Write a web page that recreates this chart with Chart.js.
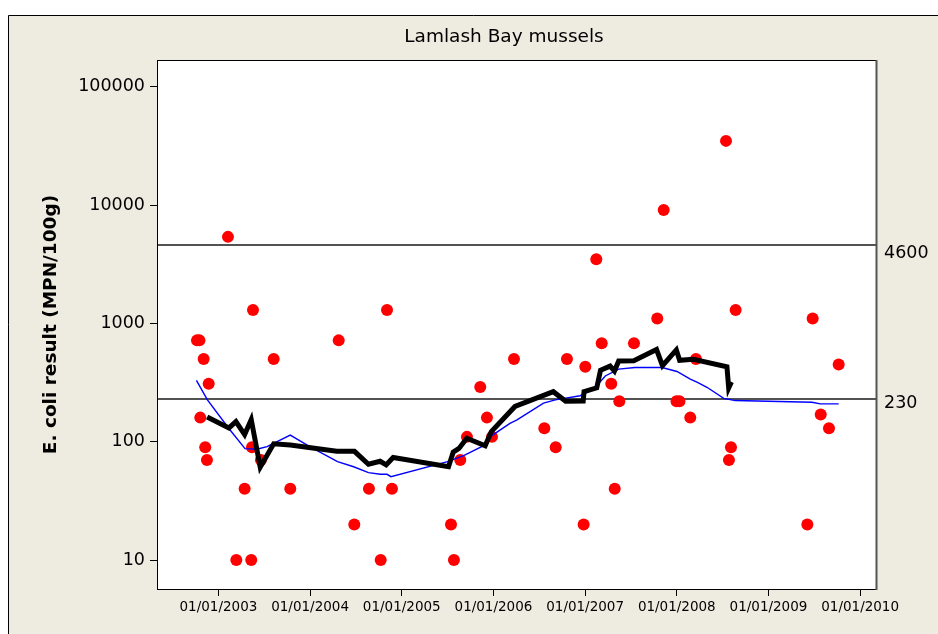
<!DOCTYPE html>
<html lang="en">
<head>
<meta charset="UTF-8">
<title>Lamlash Bay mussels</title>
<script src="https://cdn.jsdelivr.net/npm/chart.js"></script>
<style>
  html, body { margin: 0; padding: 0; background: #fff; }
</style>
</head>
<body>
<canvas id="chart" width="938" height="634"></canvas>
<script>
// sample results (decimal year, E. coli MPN/100g)
const sampleYears = [2002.766, 2002.793, 2002.802, 2002.839, 2002.856, 2002.875, 2002.894,
  2003.104, 2003.195, 2003.286, 2003.358, 2003.366, 2003.377, 2003.464, 2003.603, 2003.784,
  2004.312, 2004.482, 2004.642, 2004.770, 2004.839, 2004.893,
  2005.537, 2005.569, 2005.638, 2005.711, 2005.856, 2005.929, 2005.984,
  2006.224, 2006.555, 2006.679, 2006.802, 2006.984,
  2007.002, 2007.122, 2007.181, 2007.285, 2007.323, 2007.373, 2007.533, 2007.787, 2007.857, 2007.997,
  2008.029, 2008.147, 2008.209, 2008.537, 2008.569, 2008.591, 2008.642,
  2009.424, 2009.482, 2009.570, 2009.660, 2009.766];
const sampleValues = [720, 720, 160, 500, 90, 70, 310,
  5400, 10, 40, 10, 90, 1300, 70, 500, 40,
  720, 20, 40, 10, 1300, 40,
  20, 10, 70, 110, 290, 160, 110,
  500, 130, 90, 500, 20,
  430, 3500, 680, 310, 40, 220, 680, 1100, 9100, 220,
  220, 160, 500, 35000, 70, 90, 1300,
  20, 1100, 170, 130, 450];

// rolling geometric mean (thick black)
const geoYears = [2002.877, 2003.115, 2003.191, 2003.286, 2003.358, 2003.456, 2003.603, 2003.784,
  2004.291, 2004.484, 2004.637, 2004.764, 2004.830, 2004.906,
  2005.510, 2005.561, 2005.624, 2005.709, 2005.910, 2005.977,
  2006.235, 2006.653, 2006.788, 2006.979, 2006.988,
  2007.127, 2007.168, 2007.273, 2007.320, 2007.366, 2007.531, 2007.779, 2007.844, 2007.995,
  2008.031, 2008.182, 2008.547, 2008.566, 2008.596];
const geoValues = [162, 131, 148, 115, 154, 61, 96, 94,
  83, 83, 64.5, 68.4, 63.7, 73.6,
  61.5, 81.6, 87.8, 107, 92.5, 122,
  199, 265, 220, 221, 265,
  286, 402, 436, 396, 481, 484, 602, 440, 598,
  489, 499, 430, 285, 321];

// smoothed trend (thin blue)
const trendYears = [2002.760, 2002.880, 2003.112, 2003.290, 2003.420, 2003.530, 2003.784, 2003.982,
  2004.299, 2004.475, 2004.637, 2004.766, 2004.839, 2004.882,
  2005.499, 2005.675, 2005.893, 2005.962,
  2006.180, 2006.257, 2006.546, 2006.675, 2006.946,
  2007.091, 2007.220, 2007.366, 2007.544, 2007.839,
  2008.002, 2008.147, 2008.220, 2008.329, 2008.512, 2008.638,
  2009.475, 2009.565, 2009.766];
const trendValues = [331, 226, 130, 87.4, 86.4, 90.9, 114, 92.2,
  67.9, 61.5, 54.8, 53.2, 53.1, 50.7,
  67.9, 76.3, 92.7, 110,
  143, 153, 212, 226, 245,
  277, 360, 411, 424, 424,
  393, 338, 319, 289, 233, 223,
  216, 209, 209];

const limitValues = [4600, 230];
const yearTicks = [2003, 2004, 2005, 2006, 2007, 2008, 2009, 2010];
const yTicks = [10, 100, 1000, 10000, 100000];
const xRange = [2002.33, 2010.173];
const yRange = [5.69, 169000];

const FONT = '"DejaVu Sans", Verdana, sans-serif';

function pairs(xs, ys) {
  return xs.map((x, i) => ({ x: x, y: ys[i] }));
}

const limitSets = limitValues.map(v => ({
  data: [{ x: xRange[0], y: v }, { x: xRange[1], y: v }],
  borderColor: '#1a1a1a',
  borderWidth: 1.5,
  pointRadius: 0,
  order: 4
}));

// label offsets below each limit line
const limitLabelShift = [8, 4];

const decor = {
  id: 'decor',
  beforeDraw(chart) {
    const { ctx, chartArea: a, width, height } = chart;
    ctx.save();
    ctx.fillStyle = '#ffffff';
    ctx.fillRect(0, 0, width, height);
    ctx.fillStyle = '#eeebe1';
    ctx.fillRect(8, 15, width - 8, height - 15);
    ctx.strokeStyle = '#000';
    ctx.lineWidth = 1;
    ctx.beginPath();
    ctx.moveTo(8.5, height);
    ctx.lineTo(8.5, 15.5);
    ctx.lineTo(width, 15.5);
    ctx.stroke();
    ctx.fillStyle = '#ffffff';
    ctx.fillRect(a.left, a.top, a.right - a.left, a.bottom - a.top);
    ctx.restore();
  },
  afterDraw(chart) {
    const { ctx, chartArea: a } = chart;
    ctx.save();
    ctx.strokeStyle = '#000';
    ctx.lineWidth = 1;
    ctx.strokeRect(a.left + 0.5, a.top + 0.5, a.right - a.left, a.bottom - a.top);
    ctx.strokeStyle = '#555';
    ctx.lineWidth = 2;
    ctx.beginPath();
    ctx.moveTo(a.right + 0.5, a.top);
    ctx.lineTo(a.right + 0.5, a.bottom + 1);
    ctx.stroke();

    ctx.fillStyle = '#000';
    ctx.font = '18.5px ' + FONT;
    ctx.textAlign = 'center';
    ctx.textBaseline = 'middle';
    ctx.fillText('Lamlash Bay mussels', 504, 37);

    ctx.font = '17.5px ' + FONT;
    ctx.textAlign = 'left';
    limitValues.forEach((v, i) => {
      const y = chart.scales.y.getPixelForValue(v);
      ctx.fillText(String(v), 884, y + limitLabelShift[i]);
    });
    ctx.restore();
  }
};

new Chart(document.getElementById('chart'), {
  type: 'line',
  data: {
    datasets: [
      {
        data: pairs(geoYears, geoValues),
        borderColor: '#000',
        borderWidth: 5,
        borderJoinStyle: 'miter',
        pointRadius: 0,
        tension: 0,
        order: 1
      },
      {
        data: pairs(trendYears, trendValues),
        borderColor: '#0000ff',
        borderWidth: 1.4,
        pointRadius: 0,
        tension: 0,
        order: 2
      },
      {
        data: pairs(sampleYears, sampleValues),
        showLine: false,
        pointStyle: 'circle',
        pointRadius: 6,
        pointBorderWidth: 0,
        pointBackgroundColor: '#ff0000',
        pointBorderColor: '#ff0000',
        order: 3
      },
      ...limitSets
    ]
  },
  options: {
    responsive: false,
    animation: false,
    layout: { padding: { top: 60, right: 62, left: 0, bottom: 0 } },
    plugins: { legend: { display: false }, tooltip: { enabled: false } },
    scales: {
      x: {
        type: 'linear',
        min: xRange[0],
        max: xRange[1],
        afterBuildTicks: s => { s.ticks = yearTicks.map(v => ({ value: v })); },
        afterFit: s => { s.height = 45; },
        grid: { drawOnChartArea: false, drawTicks: true, tickLength: 7, color: '#000' },
        border: { color: '#000', width: 1 },
        ticks: {
          autoSkip: false,
          maxRotation: 0,
          padding: 3,
          color: '#000',
          font: { family: FONT, size: 13.5 },
          callback: v => '01/01/' + v
        }
      },
      y: {
        type: 'logarithmic',
        min: yRange[0],
        max: yRange[1],
        afterBuildTicks: s => { s.ticks = yTicks.map(v => ({ value: v })); },
        afterFit: s => { s.width = 157; },
        grid: { drawOnChartArea: false, drawTicks: true, tickLength: 7, color: '#000' },
        border: { color: '#000', width: 1 },
        ticks: {
          padding: 5,
          color: '#000',
          font: { family: FONT, size: 17.5 },
          callback: v => String(v)
        },
        title: {
          display: true,
          text: 'E. coli result (MPN/100g)',
          color: '#000',
          font: { family: FONT, size: 18.5, weight: 'bold' },
          padding: { top: 40, bottom: 0 }
        }
      }
    }
  },
  plugins: [decor]
});
</script>
</body>
</html>
